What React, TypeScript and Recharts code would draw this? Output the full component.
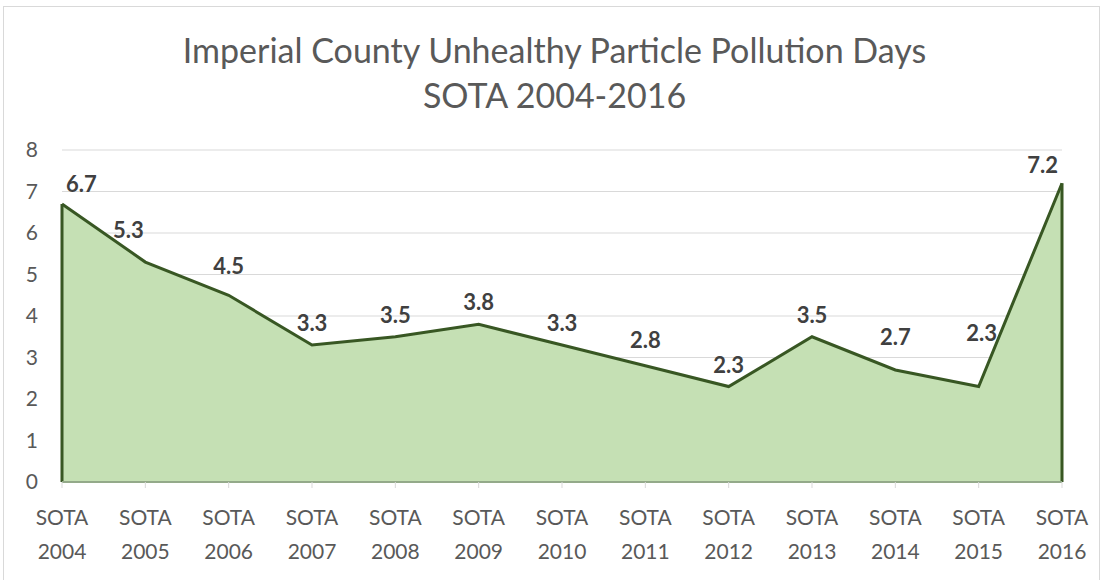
import React from "react";
import { AreaChart, Area, XAxis, YAxis, CartesianGrid, ReferenceLine, LabelList } from "recharts";

const years = ["2004","2005","2006","2007","2008","2009","2010","2011","2012","2013","2014","2015","2016"];
const values = [6.7, 5.3, 4.5, 3.3, 3.5, 3.8, 3.3, 2.8, 2.3, 3.5, 2.7, 2.3, 7.2];
const yTicks = [0, 1, 2, 3, 4, 5, 6, 7, 8];
const titleLines = ["Imperial County Unhealthy Particle Pollution Days", "SOTA 2004-2016"];

const data = years.map((y, i) => ({ name: "SOTA " + y, value: values[i] }));

const FONT = "Lato, 'Open Sans', sans-serif";
const STROKE = "#385723";
const FILL = "#c5e0b4";

const XTick = (props: any) => {
  const { x, y, payload } = props;
  const parts = String(payload.value).split(" ");
  return (
    <g>
      <text x={x} y={y + 35} textAnchor="middle" fill="#595959" fontSize={21} fontFamily={FONT}>{parts[0]}</text>
      <text x={x} y={y + 69} textAnchor="middle" fill="#595959" fontSize={21} fontFamily={FONT}>{parts[1]}</text>
    </g>
  );
};

const ValueLabel = (props: any) => {
  const { x, y, value, index } = props;
  let anchor: "middle" | "start" | "end" = "middle";
  let dx = 0;
  let dy = -14;
  if (index === 0) { anchor = "start"; dx = 4; dy = -12; }
  if (index === 1) { dx = -17; dy = -24; }
  if (index === 2) { dy = -21; }
  if (index === 7) { dy = -18; }
  if (index === 10) { dy = -25; }
  if (index === 11) { dx = 3; dy = -46; }
  if (index === values.length - 1) { anchor = "end"; dx = -4; dy = -10; }
  return (
    <text x={x + dx} y={y + dy} textAnchor={anchor} fill="#404040" fontSize={22} fontWeight="bold" fontFamily={FONT}>
      {Number(value).toFixed(1)}
    </text>
  );
};

export default function App() {
  const last = data.length - 1;
  return (
    <div style={{ position: "absolute", left: 0, top: 0, width: 1109, height: 580, background: "#fff", fontFamily: FONT }}>
      <div style={{ position: "absolute", left: 3, top: 6, width: 1097, height: 600, border: "1px solid #d9d9d9", boxSizing: "border-box" }} />
      <div style={{ position: "absolute", left: 0, top: 27, width: 1109, textAlign: "center", color: "#595959", fontSize: 34, lineHeight: "45px", fontWeight: 400 }}>
        <div>{titleLines[0]}</div>
        <div>{titleLines[1]}</div>
      </div>
      <div style={{ position: "absolute", left: 0, top: 0 }}>
        <AreaChart width={1109} height={580} data={data} margin={{ top: 150, right: 47, left: 0, bottom: 28 }}>
          <CartesianGrid vertical={false} stroke="#d9d9d9" strokeWidth={1.2} />
          <XAxis
            dataKey="name"
            interval={0}
            height={70}
            tick={<XTick />}
            axisLine={{ stroke: "#d9d9d9" }}
            tickLine={{ stroke: "#d9d9d9" }}
            tickSize={6}
            padding={{ left: 0, right: 0 }}
          />
          <YAxis
            domain={[0, 8]}
            ticks={yTicks}
            width={62}
            axisLine={false}
            tickLine={false}
            tick={{ fill: "#595959", fontSize: 21, fontFamily: FONT }}
            tickMargin={18}
          />
          <Area
            type="linear"
            dataKey="value"
            stroke={STROKE}
            strokeWidth={3}
            fill={FILL}
            fillOpacity={1}
            isAnimationActive={false}
            dot={false}
            activeDot={false}
          >
            <LabelList dataKey="value" content={<ValueLabel />} />
          </Area>
          <ReferenceLine segment={[{ x: data[0].name, y: 0 }, { x: data[0].name, y: values[0] }]} stroke={STROKE} strokeWidth={3} />
          <ReferenceLine segment={[{ x: data[last].name, y: 0 }, { x: data[last].name, y: values[last] }]} stroke={STROKE} strokeWidth={3} />
          <ReferenceLine y={0} stroke="#4f7a3a" strokeWidth={2} />
        </AreaChart>
      </div>
    </div>
  );
}
